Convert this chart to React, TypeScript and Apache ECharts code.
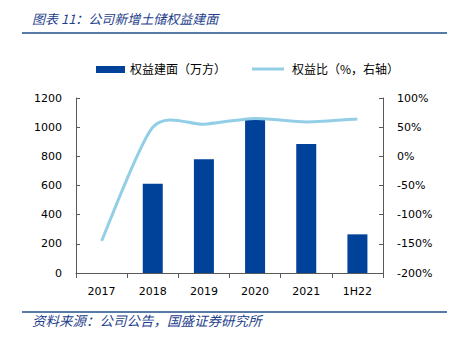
import React, { useEffect, useRef } from "react";
import * as echarts from "echarts";

const categories = ["2017", "2018", "2019", "2020", "2021", "1H22"];
const equityArea = [null, 612, 780, 1058, 885, 265];
const equityRatio = [-145, 50, 55, 65, 59, 64];
const leftTicks = [0, 200, 400, 600, 800, 1000, 1200];
const rightTicks = [-200, -150, -100, -50, 0, 50, 100];

const titleText = "图表 11：公司新增土储权益建面";
const sourceText = "资料来源：公司公告，国盛证券研究所";
const barName = "权益建面（万方）";
const lineName = "权益比（%，右轴）";

const BAR_COLOR = "#00419A";
const LINE_COLOR = "#92CFE7";
const BLUE_TEXT = "#1F3F8C";
const AXIS_COLOR = "#595959";
const CJK = "'Noto Sans CJK SC', sans-serif";
const NUM = "'DejaVu Sans', sans-serif";
const TENSION = 0.13;

export default function App() {
  const ref = useRef<HTMLDivElement>(null);
  useEffect(() => {
    if (!ref.current) return;
    const chart = echarts.init(ref.current, null, { renderer: "svg" });
    chart.setOption({
      animation: false,
      backgroundColor: "#ffffff",
      grid: { left: 76, right: 73, top: 98, bottom: 69, containLabel: false },
      xAxis: {
        type: "category",
        data: categories,
        axisLine: { lineStyle: { color: AXIS_COLOR, width: 1 } },
        axisTick: { show: true, length: 5, lineStyle: { color: AXIS_COLOR } },
        axisLabel: { color: "#000", fontFamily: NUM, fontSize: 11, margin: 13 },
      },
      yAxis: [
        {
          type: "value",
          min: leftTicks[0],
          max: leftTicks[leftTicks.length - 1],
          interval: 200,
          splitLine: { show: false },
          axisLine: { show: true, lineStyle: { color: AXIS_COLOR, width: 1 } },
          axisTick: { show: true, inside: true, length: 4, lineStyle: { color: AXIS_COLOR } },
          axisLabel: {
            color: "#000",
            fontFamily: NUM,
            fontSize: 11,
            margin: 14,
            formatter: (v: number) => String(v),
          },
        },
        {
          type: "value",
          min: rightTicks[0],
          max: rightTicks[rightTicks.length - 1],
          interval: 50,
          position: "right",
          splitLine: { show: false },
          axisLine: { show: true, lineStyle: { color: AXIS_COLOR, width: 1 } },
          axisTick: { show: true, inside: true, length: 4, lineStyle: { color: AXIS_COLOR } },
          axisLabel: {
            color: "#000",
            fontFamily: NUM,
            fontSize: 11,
            margin: 14,
            formatter: (v: number) => `${v}%`,
          },
        },
      ],
      series: [
        {
          name: barName,
          type: "bar",
          data: equityArea,
          barWidth: 20,
          itemStyle: { color: BAR_COLOR },
          yAxisIndex: 0,
        },
        {
          name: lineName,
          type: "custom",
          yAxisIndex: 1,
          coordinateSystem: "cartesian2d",
          data: [[0, equityRatio[0]]],
          silent: true,
          z: 5,
          renderItem: (_params: any, api: any) => {
            const pts = equityRatio.map((v, i) => api.coord([i, v]));
            const n = pts.length;
            let d = `M${pts[0][0]},${pts[0][1]}`;
            for (let i = 0; i < n - 1; i++) {
              const p0 = pts[Math.max(0, i - 1)];
              const p1 = pts[i];
              const p2 = pts[i + 1];
              const p3 = pts[Math.min(n - 1, i + 2)];
              const c1x = p1[0] + (p2[0] - p0[0]) * TENSION;
              const c1y = p1[1] + (p2[1] - p0[1]) * TENSION;
              const c2x = p2[0] - (p3[0] - p1[0]) * TENSION;
              const c2y = p2[1] - (p3[1] - p1[1]) * TENSION;
              d += ` C${c1x},${c1y} ${c2x},${c2y} ${p2[0]},${p2[1]}`;
            }
            return {
              type: "path",
              shape: { pathData: d },
              style: { stroke: LINE_COLOR, lineWidth: 3, fill: "none" },
            };
          },
        },
      ],
      graphic: [
        {
          type: "text",
          left: 32,
          top: 12,
          style: {
            text: titleText,
            fill: BLUE_TEXT,
            font: `italic 13px ${CJK}`,
          },
        },
        {
          type: "line",
          shape: { x1: 22, y1: 33, x2: 447, y2: 33 },
          style: { stroke: "#1F4E8C", lineWidth: 1.5 },
        },
        {
          type: "rect",
          shape: { x: 96, y: 66, width: 29, height: 7 },
          style: { fill: BAR_COLOR },
        },
        {
          type: "text",
          left: 130,
          top: 62,
          style: { text: barName, fill: "#000", font: `12px ${CJK}` },
        },
        {
          type: "line",
          shape: { x1: 252, y1: 69, x2: 284, y2: 69 },
          style: { stroke: LINE_COLOR, lineWidth: 3 },
        },
        {
          type: "text",
          left: 292,
          top: 62,
          style: { text: lineName, fill: "#000", font: `12px ${CJK}` },
        },
        {
          type: "line",
          shape: { x1: 22, y1: 312, x2: 447, y2: 312 },
          style: { stroke: "#1F4E8C", lineWidth: 1.5 },
        },
        {
          type: "text",
          left: 32,
          top: 313,
          style: {
            text: sourceText,
            fill: BLUE_TEXT,
            font: `italic 13.5px ${CJK}`,
          },
        },
      ],
    });
    return () => chart.dispose();
  }, []);
  return (
    <div
      ref={ref}
      style={{ width: 456, height: 342, position: "absolute", left: 0, top: 0 }}
    />
  );
}
